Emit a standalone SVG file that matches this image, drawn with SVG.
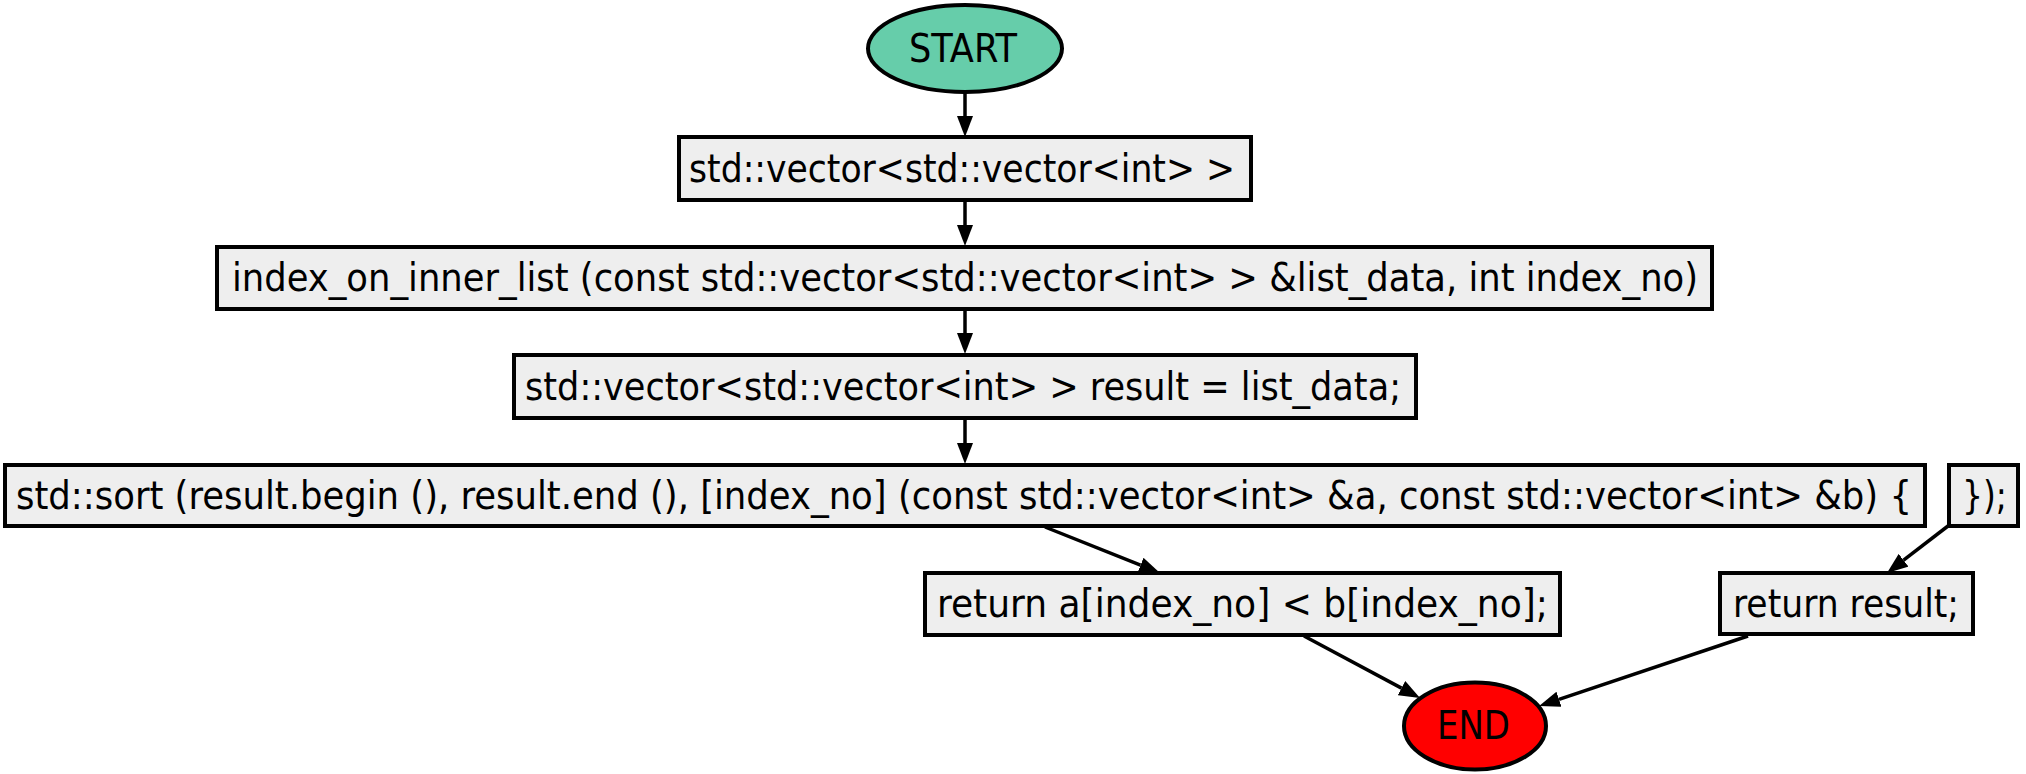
<svg xmlns="http://www.w3.org/2000/svg" width="2026" height="774" viewBox="0 0 2026 774">
  <style>
    .box { fill: #eeeeee; stroke: #000000; stroke-width: 4; }
    .start { fill: #66cdaa; stroke: #000000; stroke-width: 4; }
    .end { fill: #ff0000; stroke: #000000; stroke-width: 4; }
    .lbl { font-family: "DejaVu Sans Condensed", "DejaVu Sans", sans-serif; font-stretch: condensed; font-size: 39px; fill: #000000; }
    .edge { stroke: #000000; stroke-width: 3.5; fill: none; }
  </style>
  <defs>
    <marker id="arrow" markerUnits="userSpaceOnUse" viewBox="0 -8 21 16" markerWidth="21" markerHeight="16" refX="0" refY="0" orient="auto">
      <path d="M0,-8 L21,0 L0,8 z" fill="#000000"/>
    </marker>
  </defs>

  <!-- connectors -->
  <g id="edges">
    <line class="edge" x1="965" y1="92" x2="965" y2="116" marker-end="url(#arrow)"/>
    <line class="edge" x1="965" y1="200" x2="965" y2="225" marker-end="url(#arrow)"/>
    <line class="edge" x1="965" y1="309" x2="965" y2="333" marker-end="url(#arrow)"/>
    <line class="edge" x1="965" y1="418" x2="965" y2="443" marker-end="url(#arrow)"/>
    <line class="edge" x1="1045" y1="527" x2="1140.5" y2="565.2" marker-end="url(#arrow)"/>
    <line class="edge" x1="1948" y1="526" x2="1903.6" y2="560.2" marker-end="url(#arrow)"/>
    <line class="edge" x1="1304" y1="636" x2="1401.5" y2="688.1" marker-end="url(#arrow)"/>
    <line class="edge" x1="1748" y1="636" x2="1559" y2="699.3" marker-end="url(#arrow)"/>
  </g>

  <g id="start">
    <ellipse class="start" cx="965" cy="48.5" rx="97" ry="43.5"/>
    <text class="lbl" x="909" y="62" textLength="108" lengthAdjust="spacingAndGlyphs">START</text>
  </g>

  <g id="decl_result_type">
    <rect class="box" x="679" y="137" width="572" height="63"/>
    <text class="lbl" x="689" y="182" textLength="546" lengthAdjust="spacingAndGlyphs">std::vector&lt;std::vector&lt;int&gt; &gt;</text>
  </g>

  <g id="func_signature">
    <rect class="box" x="217" y="247" width="1495" height="62"/>
    <text class="lbl" x="232" y="291" textLength="1466" lengthAdjust="spacingAndGlyphs">index_on_inner_list (const std::vector&lt;std::vector&lt;int&gt; &gt; &amp;list_data, int index_no)</text>
  </g>

  <g id="copy_result">
    <rect class="box" x="514" y="355" width="902" height="63"/>
    <text class="lbl" x="525" y="399.5" textLength="876" lengthAdjust="spacingAndGlyphs">std::vector&lt;std::vector&lt;int&gt; &gt; result = list_data;</text>
  </g>

  <g id="sort_call">
    <rect class="box" x="5" y="465" width="1920" height="61"/>
    <text class="lbl" x="16" y="508.5" textLength="1896" lengthAdjust="spacingAndGlyphs">std::sort (result.begin (), result.end (), [index_no] (const std::vector&lt;int&gt; &amp;a, const std::vector&lt;int&gt; &amp;b) {</text>
  </g>

  <g id="sort_close">
    <rect class="box" x="1949" y="465" width="69" height="61"/>
    <text class="lbl" x="1962" y="508.5" textLength="45" lengthAdjust="spacingAndGlyphs">});</text>
  </g>

  <g id="compare_return">
    <rect class="box" x="925" y="573" width="635" height="62"/>
    <text class="lbl" x="937" y="617" textLength="611" lengthAdjust="spacingAndGlyphs">return a[index_no] &lt; b[index_no];</text>
  </g>

  <g id="return_result">
    <rect class="box" x="1720" y="573" width="253" height="61"/>
    <text class="lbl" x="1733" y="616.5" textLength="226" lengthAdjust="spacingAndGlyphs">return result;</text>
  </g>

  <g id="end">
    <ellipse class="end" cx="1475" cy="726" rx="71" ry="43.5"/>
    <text class="lbl" x="1437" y="739" textLength="73" lengthAdjust="spacingAndGlyphs">END</text>
  </g>
</svg>
